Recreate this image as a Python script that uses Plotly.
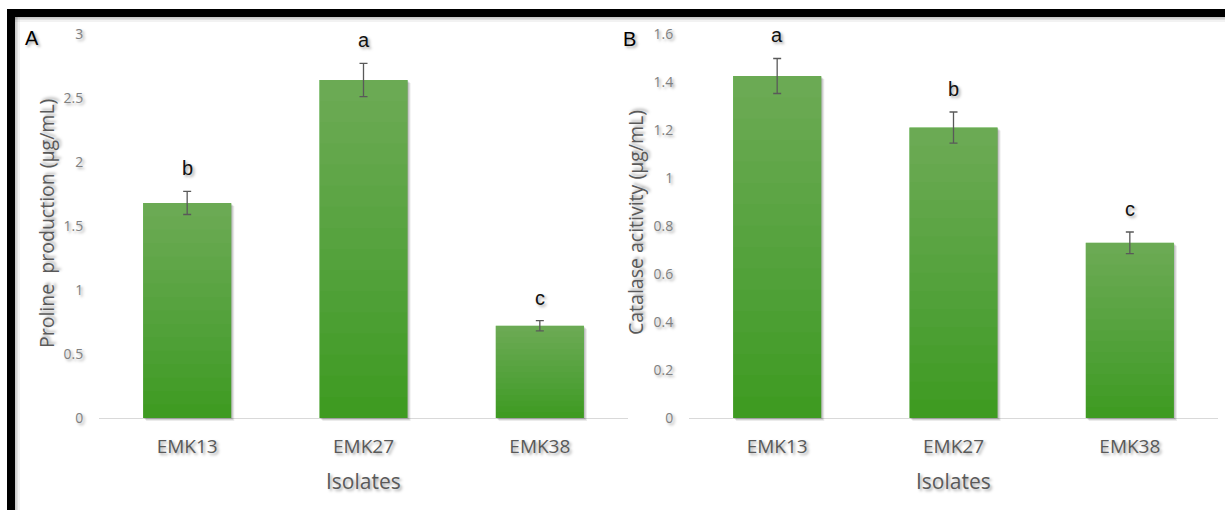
import plotly.graph_objects as go

# Isolates and measured values
isolates = ["EMK13", "EMK27", "EMK38"]
proline = [1.68, 2.64, 0.72]
proline_err = [0.09, 0.13, 0.04]
proline_letters = ["b", "a", "c"]
catalase = [1.425, 1.21, 0.73]
catalase_err = [0.073, 0.065, 0.045]
catalase_letters = ["a", "b", "c"]

W, H = 1225, 510
BAR = "#3f9b22"
ERR = "#595959"
GREY = "#595959"
TICK_GREY = "#808080"
SHADOW = "2px 2px 3px rgba(0,0,0,0.35)"
N_SHADE = 16


def px_x(x):
    return x / W


def px_y(y):
    return 1 - y / H


fig = go.Figure()

panels = [
    dict(vals=proline, err=proline_err, letters=proline_letters,
         xa="x", ya="y", ymax=3.0, dtick=0.5, x0=99, x1=628),
    dict(vals=catalase, err=catalase_err, letters=catalase_letters,
         xa="x2", ya="y2", ymax=1.6, dtick=0.2, x0=689, x1=1218),
]

y_top, y_zero = 34, 418

for p in panels:
    unit_px = (y_zero - y_top) / p["ymax"]
    cat_px = (p["x1"] - p["x0"]) / 3
    # soft drop shadow under each bar
    for k, a in [(1.0, 0.10), (2.0, 0.10), (3.0, 0.08)]:
        fig.add_trace(go.Bar(
            x=isolates, y=p["vals"], base=[-k / unit_px] * 3,
            width=0.5, offset=-0.25 + k / cat_px,
            marker=dict(color=f"rgba(0,0,0,{a})", line=dict(width=0)),
            xaxis=p["xa"], yaxis=p["ya"], hoverinfo="skip", showlegend=False,
        ))
    fig.add_trace(go.Bar(
        x=isolates, y=p["vals"],
        width=0.5,
        marker=dict(color=BAR, line=dict(width=0)),
        xaxis=p["xa"], yaxis=p["ya"], showlegend=False,
    ))
    # lighter toward the top of each bar: stacked translucent white layers
    for j in range(1, N_SHADE):
        frac = j / N_SHADE
        fig.add_trace(go.Bar(
            x=isolates,
            y=[v * (1 - frac) for v in p["vals"]],
            base=[v * frac for v in p["vals"]],
            width=0.5,
            marker=dict(color="rgba(255,255,255,0.018)", line=dict(width=0)),
            xaxis=p["xa"], yaxis=p["ya"], hoverinfo="skip", showlegend=False,
        ))
    # error bars on top
    fig.add_trace(go.Bar(
        x=isolates, y=p["vals"],
        width=0.5,
        marker=dict(color="rgba(0,0,0,0)", line=dict(width=0)),
        error_y=dict(type="data", array=p["err"], color=ERR, thickness=1.3, width=4),
        xaxis=p["xa"], yaxis=p["ya"], hoverinfo="skip", showlegend=False,
    ))

layout_axes = {}
for i, p in enumerate(panels):
    sfx = "" if i == 0 else "2"
    unit_px = (y_zero - y_top) / p["ymax"]
    pad = 6 / unit_px
    bottom_px = y_zero + 6
    layout_axes["xaxis" + sfx] = dict(
        domain=[px_x(p["x0"]), px_x(p["x1"])],
        anchor="y" + sfx,
        range=[-0.5, 2.5],
        automargin=False,
        showline=False, showgrid=False, zeroline=False,
        ticks="outside", ticklen=5, tickcolor="rgba(0,0,0,0)",
        tickfont=dict(family="Open Sans", size=19, color=GREY, shadow=SHADOW),
    )
    layout_axes["yaxis" + sfx] = dict(
        domain=[px_y(bottom_px), px_y(y_top)],
        anchor="x" + sfx,
        range=[-pad, p["ymax"]],
        automargin=False,
        tickmode="linear", tick0=0, dtick=p["dtick"],
        showgrid=False, showline=False,
        zeroline=True, zerolinecolor="#d9d9d9", zerolinewidth=1.2,
        ticks="outside", ticklen=12, tickcolor="rgba(0,0,0,0)",
        tickfont=dict(family="Open Sans", size=14, color=TICK_GREY, shadow=SHADOW),
    )

annotations = []
for p in panels:
    for cat, v, e, lab in zip(isolates, p["vals"], p["err"], p["letters"]):
        annotations.append(dict(
            x=cat, y=v + e, xref=p["xa"], yref=p["ya"], text=lab,
            showarrow=False, xanchor="center", yanchor="middle", yshift=23,
            font=dict(family="Liberation Sans", size=20, color="#111111", shadow=SHADOW),
        ))


def paper_text(x, y, text, size, color, family="Open Sans", angle=0):
    return dict(x=px_x(x), y=px_y(y), xref="paper", yref="paper", text=text,
                textangle=angle, showarrow=False, xanchor="center", yanchor="middle",
                font=dict(family=family, size=size, color=color, shadow=SHADOW))


# axis titles and panel letters
annotations += [
    paper_text(46, 224, "Proline  production (µg/mL)", 19.5, GREY, angle=-90),
    paper_text(635, 223, "Catalase acitivity (µg/mL)", 19.5, GREY, angle=-90),
    paper_text(363, 481, "Isolates", 21, GREY),
    paper_text(953, 481, "Isolates", 21, GREY),
    paper_text(32, 38, "A", 20, "#000000", family="Liberation Sans"),
    paper_text(629, 39, "B", 20, "#000000", family="Liberation Sans"),
]

# black frame along the top and left edges, with a soft grey fringe
shapes = []
for k, a in [(5, 0.05), (3, 0.07), (1.5, 0.10)]:
    shapes.append(dict(type="rect", xref="paper", yref="paper",
                       x0=px_x(7), x1=1, y0=px_y(17 + k), y1=px_y(9),
                       line=dict(width=0), fillcolor=f"rgba(0,0,0,{a})", layer="below"))
    shapes.append(dict(type="rect", xref="paper", yref="paper",
                       x0=px_x(7), x1=px_x(15 + k), y0=0, y1=px_y(9),
                       line=dict(width=0), fillcolor=f"rgba(0,0,0,{a})", layer="below"))
shapes.append(dict(type="rect", xref="paper", yref="paper",
                   x0=px_x(7), x1=1, y0=px_y(17), y1=px_y(9),
                   line=dict(width=0), fillcolor="#000000"))
shapes.append(dict(type="rect", xref="paper", yref="paper",
                   x0=px_x(7), x1=px_x(15), y0=0, y1=px_y(9),
                   line=dict(width=0), fillcolor="#000000"))

fig.update_layout(
    width=W, height=H,
    margin=dict(l=0, r=0, t=0, b=0, autoexpand=False),
    paper_bgcolor="white", plot_bgcolor="rgba(0,0,0,0)",
    barmode="overlay",
    showlegend=False,
    annotations=annotations,
    shapes=shapes,
    **layout_axes,
)

fig.write_html("out.html")
